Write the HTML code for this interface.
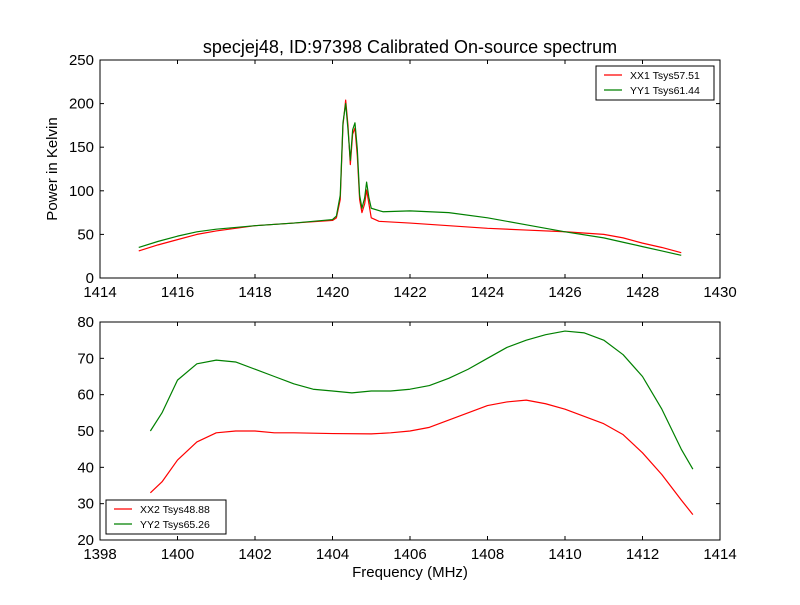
<!DOCTYPE html>
<html><head><meta charset="utf-8"><style>
body{margin:0;background:#fff;}
svg{font-family:"Liberation Sans","DejaVu Sans",sans-serif;}
</style></head><body>
<svg id="chart" width="800" height="600" viewBox="0 0 800 600" xmlns="http://www.w3.org/2000/svg">
<rect width="800" height="600" fill="#fff"/>
<text x="410" y="53" font-size="18" text-anchor="middle">specjej48, ID:97398 Calibrated On-source spectrum</text>
<g id="top"></g><g id="bot"></g>
</svg>
<script>
const topXX1x=[1415,1415.5,1416,1416.5,1417,1418,1419,1420,1420.1,1420.2,1420.27,1420.34,1420.4,1420.46,1420.52,1420.58,1420.64,1420.7,1420.76,1420.83,1420.88,1420.94,1421,1421.2,1422,1423,1424,1425,1426,1427,1427.5,1428,1428.5,1429];
const topXX1y=[31,38,44,50,54,60,63,66,69,90,175,204,175,130,165,172,140,90,75,85,101,85,69,65,63,60,57,55,53,50,46,40,35,29];
const topYY1x=[1415,1415.5,1416,1416.5,1417,1418,1419,1420,1420.1,1420.2,1420.27,1420.34,1420.4,1420.46,1420.52,1420.58,1420.64,1420.7,1420.76,1420.83,1420.88,1420.94,1421,1421.3,1422,1423,1424,1425,1426,1427,1427.5,1428,1428.5,1429];
const topYY1y=[35,42,48,53,56,60,63,67,71,95,178,200,170,135,170,178,148,95,80,92,110,92,80,76,77,75,69,61,53,46,41,36,31,26];
const botYY2x=[1399.3,1399.6,1400,1400.5,1401,1401.5,1402,1402.5,1403,1403.5,1404,1404.5,1405,1405.5,1406,1406.5,1407,1407.5,1408,1408.5,1409,1409.5,1410,1410.5,1411,1411.5,1412,1412.5,1413,1413.3];
const botYY2y=[50,55,64,68.5,69.5,69,67,65,63,61.5,61,60.5,61,61,61.5,62.5,64.5,67,70,73,75,76.5,77.5,77,75,71,65,56,45,39.5];
const botXX2x=[1399.3,1399.6,1400,1400.5,1401,1401.5,1402,1402.5,1403,1404,1405,1405.5,1406,1406.5,1407,1407.5,1408,1408.5,1409,1409.5,1410,1410.5,1411,1411.5,1412,1412.5,1413,1413.3];
const botXX2y=[33,36,42,47,49.5,50,50,49.5,49.5,49.3,49.2,49.5,50,51,53,55,57,58,58.5,57.5,56,54,52,49,44,38,31,27];
const topXTicks=[1414,1416,1418,1420,1422,1424,1426,1428,1430];
const topYTicks=[0,50,100,150,200,250];
const botXTicks=[1398,1400,1402,1404,1406,1408,1410,1412,1414];
const botYTicks=[20,30,40,50,60,70,80];
const NS="http://www.w3.org/2000/svg";
function mk(p,t,a){const e=document.createElementNS(NS,t);for(const k in a)e.setAttribute(k,a[k]);p.appendChild(e);return e;}
function panel(g,x0,x1,y0,y1,L,R,T,B,xt,yt,series,ylab,xlab){
 const sx=v=>L+(v-x0)/(x1-x0)*(R-L), sy=v=>B-(v-y0)/(y1-y0)*(B-T);
 series.forEach(s=>{
  const pl=mk(g,'polyline',{points:s.x.map((v,i)=>sx(v)+','+sy(s.y[i])).join(' '),fill:'none',stroke:s.c,'stroke-width':1.2,'stroke-linejoin':'round'});
  
  
 });
 const fr=mk(g,'rect',{x:L,y:T,width:R-L,height:B-T,fill:'none',stroke:'#000'});
 
 
 xt.forEach(v=>{const x=sx(v);mk(g,'line',{x1:x,x2:x,y1:B,y2:B-4,stroke:'#000'});mk(g,'line',{x1:x,x2:x,y1:T,y2:T+4,stroke:'#000'});
  const t=mk(g,'text',{x:x,y:B+19,'font-size':15,'text-anchor':'middle'});t.textContent=v;
  
  });
 yt.forEach(v=>{const y=sy(v);mk(g,'line',{x1:L,x2:L+4,y1:y,y2:y,stroke:'#000'});mk(g,'line',{x1:R,x2:R-4,y1:y,y2:y,stroke:'#000'});
  const t=mk(g,'text',{x:L-6,y:y+5,'font-size':15,'text-anchor':'end'});t.textContent=v;
  
  });
 if(ylab){const t=mk(g,'text',{x:0,y:0,'font-size':15,'text-anchor':'middle',transform:`translate(57,${(T+B)/2}) rotate(-90)`});t.textContent=ylab;
  
  }
 if(xlab){const t=mk(g,'text',{x:(L+R)/2,y:B+37,'font-size':15,'text-anchor':'middle'});t.textContent=xlab;
  
  }
}
function legend(g,x,y,w,items){
 const r=mk(g,'rect',{x:x,y:y,width:w,height:34,fill:'#fff',stroke:'#000'});
 
 
 items.forEach((it,i)=>{const yy=y+9+i*15;mk(g,'line',{x1:x+8,x2:x+26,y1:yy,y2:yy,stroke:it.c,'stroke-width':1.2});
  const t=mk(g,'text',{x:x+34,y:yy+4,'font-size':10.5});t.textContent=it.t;
  
  });
}
const gt=document.getElementById('top'),gb=document.getElementById('bot');
panel(gt,1414,1430,0,250,100,720,60,278,topXTicks,topYTicks,[{x:topXX1x,y:topXX1y,c:'#ff0000',n:'xx1-line'},{x:topYY1x,y:topYY1y,c:'#008000',n:'yy1-line'}],'Power in Kelvin',null);
legend(gt,596,66,118,[{c:'#ff0000',t:'XX1 Tsys57.51'},{c:'#008000',t:'YY1 Tsys61.44'}]);
panel(gb,1398,1414,20,80,100,720,322,540,botXTicks,botYTicks,[{x:botXX2x,y:botXX2y,c:'#ff0000',n:'xx2-line'},{x:botYY2x,y:botYY2y,c:'#008000',n:'yy2-line'}],null,'Frequency (MHz)');
legend(gb,106,500,120,[{c:'#ff0000',t:'XX2 Tsys48.88'},{c:'#008000',t:'YY2 Tsys65.26'}]);
</script>
</body></html>
